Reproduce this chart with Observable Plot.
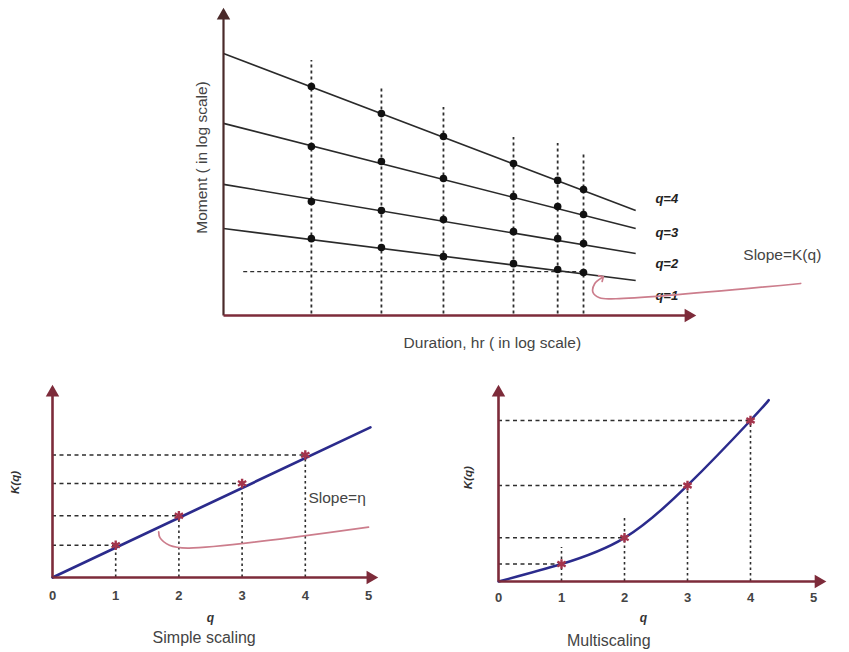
<!DOCTYPE html>
<html><head><meta charset="utf-8">
<script src="https://cdn.jsdelivr.net/npm/d3@7"></script>
<script src="https://cdn.jsdelivr.net/npm/@observablehq/plot@0.6"></script>
<style>
body{margin:0;background:#fff;}
#wrap{position:relative;width:849px;height:652px;overflow:hidden;background:#fff;}
#wrap svg{position:absolute;overflow:visible;}
</style></head><body><div id="wrap"></div>
<script>
// ---------- Top panel data (log-duration vs log-moment, chart units) ----------
const durations    = [1.87, 3.36, 4.68, 6.17, 7.11, 7.66];
const durationTops = [8.36, 7.44, 6.82, 5.84, 5.64, 5.31];
const orderLabels  = ["q=4", "q=3", "q=2", "q=1"];
const lineStartY   = [8.59, 6.30, 4.30, 2.85];
const lineEndY     = [3.44, 2.85, 2.03, 1.15];
const lineEndX     = 8.77;
const momentsQ4 = [7.51, 6.62, 5.87, 4.98, 4.43, 4.13];
const momentsQ3 = [5.54, 5.05, 4.49, 3.90, 3.57, 3.31];
const momentsQ2 = [3.74, 3.44, 3.15, 2.75, 2.52, 2.36];
const momentsQ1 = [2.52, 2.23, 1.93, 1.70, 1.51, 1.41];
const refLevel = 1.44;
const slopeCurveTopX = [12.28, 8.35, 8.0, 7.86, 7.9, 8.05];
const slopeCurveTopY = [1.05, 0.55, 0.58, 0.76, 1.05, 1.24];

// ---------- Bottom panels data ----------
const qValues  = [1, 2, 3, 4];
const qTicks   = [0, 1, 2, 3, 4, 5];
const kSimple  = [0.34, 0.65, 0.99, 1.29];
const simpleLineQ = [0, 5.03];
const simpleLineK = [0, 1.58];
const simpleSlopeCurveQ = [5.0, 2.14, 1.85, 1.70, 1.68];
const simpleSlopeCurveK = [0.53, 0.31, 0.34, 0.42, 0.48];
const kMulti   = [0.18, 0.45, 0.99, 1.66];
const multiCurveQ = [0, 1, 2, 3, 4, 4.29];
const multiCurveK = [0, 0.18, 0.45, 0.99, 1.66, 1.87];
const multiVertTops = [0.35, 0.65, 0.99, 1.66];

// ---------- styles ----------
const FONT = "'Liberation Sans', Arial, sans-serif";
const AXIS = "#7d2b3a";
const DASH = "#2e2e2e";
const PINK = "#cc7d8c";
const BLUE = "#2b2b8c";
const MARK = "#a3344c";
const wrap = document.getElementById("wrap");

function place(svg, left, top) {
  svg.style.left = left + "px";
  svg.style.top = top + "px";
  wrap.appendChild(svg);
}

// ---------- Top panel ----------
const topLines = orderLabels.map((q, i) => ({q, y1: lineStartY[i], y2: lineEndY[i]}));
const topPoints = [];
[momentsQ4, momentsQ3, momentsQ2, momentsQ1].forEach((arr, j) =>
  arr.forEach((m, i) => topPoints.push({x: durations[i], y: m, q: orderLabels[j]})));
const verticals = durations.map((d, i) => ({x: d, top: durationTops[i]}));
const topCurve = slopeCurveTopX.map((x, i) => ({x, y: slopeCurveTopY[i]}));
const labelYs = [3.84, 2.72, 1.70, 0.66];

const topPlot = Plot.plot({
  width: 849, height: 360,
  marginLeft: 223, marginRight: 156, marginTop: 10, marginBottom: 45,
  x: {domain: [0, 10], axis: null},
  y: {domain: [0, 10], axis: null},
  style: {fontFamily: FONT, background: "transparent", overflow: "visible"},
  marks: [
    Plot.ruleX(verticals, {x: "x", y1: 0.05, y2: "top", stroke: DASH, strokeWidth: 1.8, strokeDasharray: "3,3"}),
    Plot.ruleY([{y: refLevel, x1: 0.43, x2: durations[5]}], {y: "y", x1: "x1", x2: "x2", stroke: DASH, strokeWidth: 1.4, strokeDasharray: "4,3"}),
    Plot.link(topLines, {x1: 0, y1: "y1", x2: lineEndX, y2: "y2", stroke: "#2a2a2a", strokeWidth: 1.6}),
    Plot.dot(topPoints, {x: "x", y: "y", r: 3.8, fill: "#111"}),
    Plot.text(topLines, {x: 9.19, y: (d, i) => labelYs[i], text: "q", textAnchor: "start", fontSize: 13, fontWeight: "bold", fontStyle: "italic", fill: "#222"}),
    Plot.line(topCurve, {x: "x", y: "y", curve: "catmull-rom", stroke: PINK, strokeWidth: 1.7, markerEnd: "arrow"}),
    Plot.text([{t: "Slope=K(q)"}], {x: 11.06, y: 1.97, text: "t", textAnchor: "start", fontSize: 15.5, fill: "#444"}),
    Plot.link([{}], {x1: 0, y1: 0, x2: 0, y2: 9.85, stroke: "#4a2a2a", strokeWidth: 2.2}),
    Plot.link([{}], {x1: 0, y1: 0, x2: 9.85, y2: 0, stroke: AXIS, strokeWidth: 2.6}),
    Plot.dot([{}], {x: 0, y: 10, dy: 5, symbol: "triangle", r: 5, fill: "#4a2a2a"}),
    Plot.dot([{}], {x: 10, y: 0, dx: -5, symbol: "triangle", rotate: 90, r: 5, fill: AXIS}),
    Plot.text([{t: "Moment ( in log scale)"}], {x: -0.45, y: 5.18, text: "t", rotate: -90, fontSize: 15.5, fill: "#444"}),
    Plot.text([{t: "Duration, hr ( in log scale)"}], {x: 5.72, y: -0.89, text: "t", fontSize: 15.5, fill: "#444"})
  ]
});
place(topPlot, 0, 0);

// ---------- bottom panel builder ----------
function bottomPanel(opts) {
  const pts = qValues.map((q, i) => ({q, k: opts.k[i], top: opts.vtops[i]}));
  return Plot.plot({
    width: opts.width, height: 282,
    marginLeft: opts.ml, marginRight: opts.mr, marginTop: 17, marginBottom: opts.mb,
    x: {domain: [0, 5]},
    y: {domain: [0, 2], axis: null},
    style: {fontFamily: FONT, background: "transparent", overflow: "visible"},
    marks: [
      Plot.ruleY(pts, {y: "k", x1: 0, x2: "q", stroke: DASH, strokeWidth: 1.5, strokeDasharray: "4,3.5"}),
      Plot.ruleX(pts, {x: "q", y1: 0, y2: "top", stroke: DASH, strokeWidth: 1.6, strokeDasharray: "2.5,3"}),
      ...opts.extra,
      Plot.dot(pts, {x: "q", y: "k", symbol: "asterisk", r: 4.5, stroke: MARK, strokeWidth: 2.4}),
      Plot.link([{}], {x1: 0, y1: 0, x2: 0, y2: 1.95, stroke: AXIS, strokeWidth: 2.6}),
      Plot.link([{}], {x1: 0, y1: 0, x2: opts.xEnd - 0.08, y2: 0, stroke: AXIS, strokeWidth: 2.6}),
      Plot.dot([{}], {x: 0, y: 2, dy: 5, symbol: "triangle", r: 5, fill: AXIS}),
      Plot.dot([{}], {x: opts.xEnd, y: 0, dx: -5, symbol: "triangle", rotate: 90, r: 5, fill: AXIS}),
      Plot.axisX({ticks: qTicks, tickSize: 0, tickPadding: opts.tp, fontSize: 13, fontWeight: "bold", fill: "#444", label: null, tickFormat: d => String(d)}),
      Plot.text([{t: "K(q)"}], {x: opts.kLabel[0], y: opts.kLabel[1], text: "t", rotate: -90, fontSize: 11.5, fontWeight: "bold", fontStyle: "italic", fill: "#333"}),
      Plot.text([{t: "q"}], {x: opts.qLabel[0], y: opts.qLabel[1], text: "t", fontSize: 12, fontWeight: "bold", fontStyle: "italic", fill: "#333"}),
      Plot.text([{t: opts.title}], {x: opts.titlePos[0], y: opts.titlePos[1], text: "t", fontSize: 16, fill: "#444"})
    ]
  });
}

// ---------- Bottom-left: simple scaling ----------
const simpleLine = simpleLineQ.map((q, i) => ({q, k: simpleLineK[i]}));
const simpleCurve = simpleSlopeCurveQ.map((q, i) => ({q, k: simpleSlopeCurveK[i]}));
const left = bottomPanel({
  width: 420, ml: 52, mr: 52, mb: 75, tp: 13, xEnd: 5.11,
  k: kSimple, vtops: kSimple,
  kLabel: [-0.59, 1.0], qLabel: [2.5, -0.43], title: "Simple scaling", titlePos: [2.4, -0.64],
  extra: [
    Plot.line(simpleCurve, {x: "q", y: "k", curve: "catmull-rom", stroke: PINK, strokeWidth: 1.7}),
    Plot.line(simpleLine, {x: "q", y: "k", stroke: BLUE, strokeWidth: 2.7}),
    Plot.text([{t: "Slope=η"}], {x: 4.05, y: 0.84, text: "t", textAnchor: "start", fontSize: 15.5, fill: "#444"})
  ]
});
place(left, 0, 370);

// ---------- Bottom-right: multiscaling ----------
const multiCurve = multiCurveQ.map((q, i) => ({q, k: multiCurveK[i]}));
const right = bottomPanel({
  width: 409, ml: 58, mr: 36, mb: 71, tp: 11, xEnd: 5.16,
  k: kMulti, vtops: multiVertTops,
  kLabel: [-0.48, 1.07], qLabel: [2.3, -0.38], title: "Multiscaling", titlePos: [1.75, -0.61],
  extra: [
    Plot.line(multiCurve, {x: "q", y: "k", curve: "natural", stroke: BLUE, strokeWidth: 2.5})
  ]
});
place(right, 440, 370);
</script>
</body></html>
